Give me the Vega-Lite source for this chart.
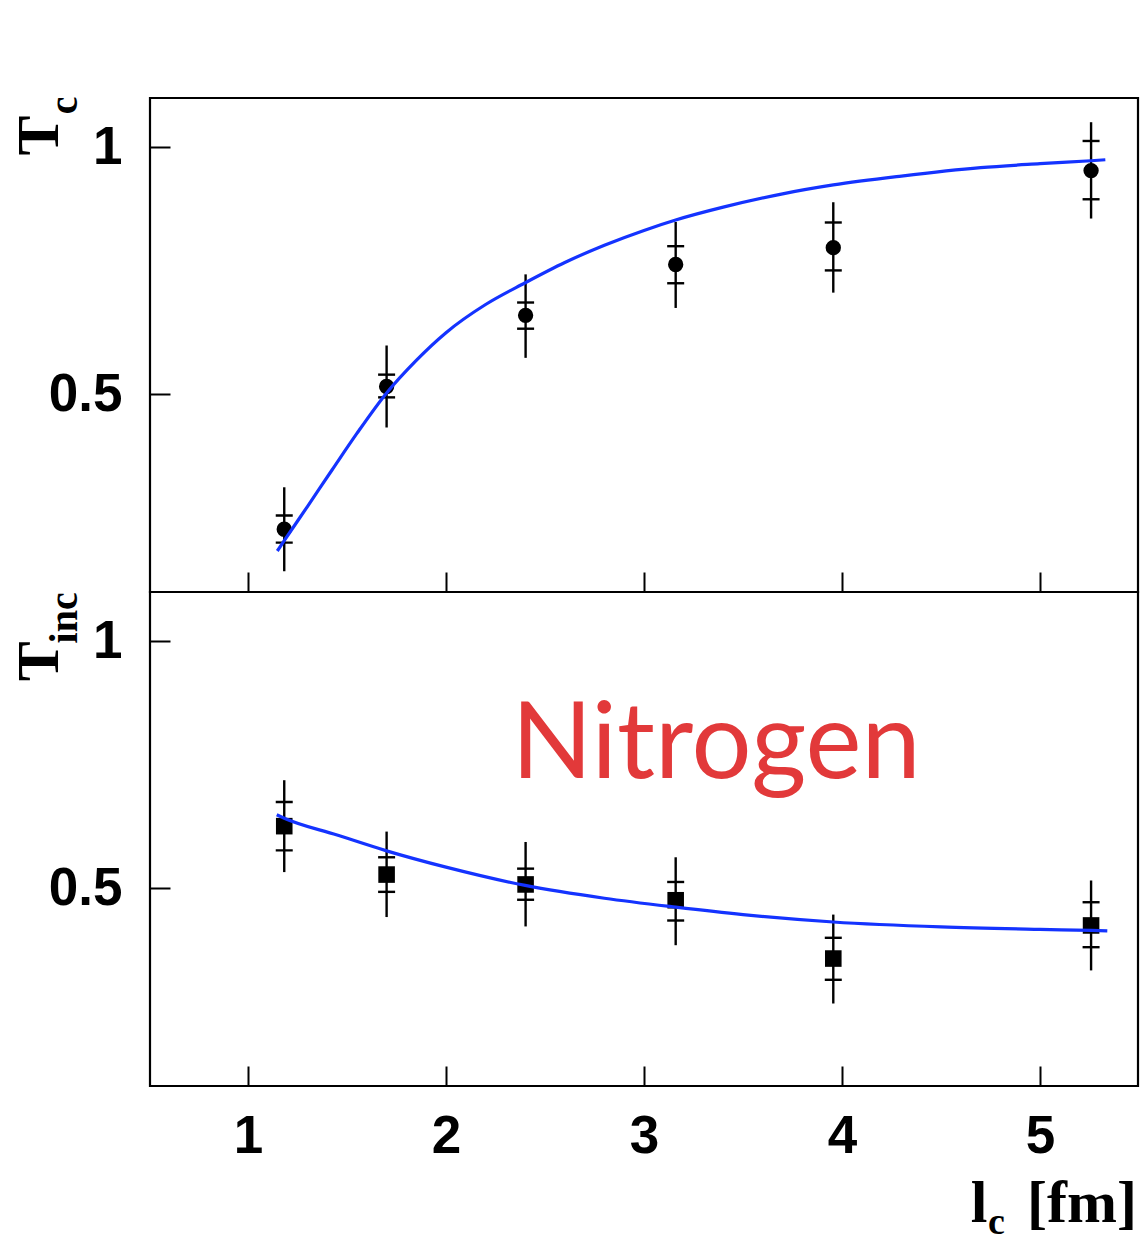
{
  "$schema": "https://vega.github.io/schema/vega-lite/v6.json",
  "autosize": {"type": "pad"},
  "padding": {"left": 8, "top": 95, "right": 0, "bottom": 0},
  "background": "white",
  "spacing": 0,
  "bounds": "flush",
  "config": {
    "view": {"stroke": "black", "strokeWidth": 2.2},
    "axis": {
      "grid": false,
      "domain": false,
      "ticks": true,
      "tickColor": "black",
      "tickWidth": 2,
      "tickSize": -20,
      "labelFont": "Liberation Sans",
      "labelFontWeight": "bold",
      "labelFontSize": 53,
      "labelColor": "black",
      "title": null
    }
  },
  "datasets": {
    "points": [
      {"panel": "c", "l": 1.183, "T": 0.227, "statLo": 0.200, "statHi": 0.255, "totLo": 0.142, "totHi": 0.312},
      {"panel": "c", "l": 1.700, "T": 0.516, "statLo": 0.494, "statHi": 0.540, "totLo": 0.433, "totHi": 0.599},
      {"panel": "c", "l": 2.402, "T": 0.660, "statLo": 0.633, "statHi": 0.686, "totLo": 0.574, "totHi": 0.743},
      {"panel": "c", "l": 3.160, "T": 0.763, "statLo": 0.725, "statHi": 0.800, "totLo": 0.675, "totHi": 0.849},
      {"panel": "c", "l": 3.956, "T": 0.797, "statLo": 0.751, "statHi": 0.848, "totLo": 0.706, "totHi": 0.889},
      {"panel": "c", "l": 5.258, "T": 0.953, "statLo": 0.895, "statHi": 1.013, "totLo": 0.856, "totHi": 1.051},
      {"panel": "inc", "l": 1.183, "T": 0.626, "statLo": 0.577, "statHi": 0.675, "totLo": 0.533, "totHi": 0.719},
      {"panel": "inc", "l": 1.700, "T": 0.528, "statLo": 0.493, "statHi": 0.563, "totLo": 0.442, "totHi": 0.615},
      {"panel": "inc", "l": 2.402, "T": 0.508, "statLo": 0.477, "statHi": 0.540, "totLo": 0.423, "totHi": 0.594},
      {"panel": "inc", "l": 3.160, "T": 0.476, "statLo": 0.435, "statHi": 0.513, "totLo": 0.385, "totHi": 0.563},
      {"panel": "inc", "l": 3.956, "T": 0.358, "statLo": 0.315, "statHi": 0.400, "totLo": 0.267, "totHi": 0.447},
      {"panel": "inc", "l": 5.258, "T": 0.425, "statLo": 0.381, "statHi": 0.472, "totLo": 0.334, "totHi": 0.516}
    ],
    "curves": [
      {"panel": "c", "l": 1.148, "T": 0.183},
      {"panel": "c", "l": 1.183, "T": 0.204},
      {"panel": "c", "l": 1.300, "T": 0.273},
      {"panel": "c", "l": 1.426, "T": 0.348},
      {"panel": "c", "l": 1.550, "T": 0.421},
      {"panel": "c", "l": 1.700, "T": 0.503},
      {"panel": "c", "l": 1.850, "T": 0.569},
      {"panel": "c", "l": 2.000, "T": 0.625},
      {"panel": "c", "l": 2.200, "T": 0.682},
      {"panel": "c", "l": 2.400, "T": 0.726},
      {"panel": "c", "l": 2.600, "T": 0.767},
      {"panel": "c", "l": 2.800, "T": 0.802},
      {"panel": "c", "l": 3.000, "T": 0.832},
      {"panel": "c", "l": 3.160, "T": 0.853},
      {"panel": "c", "l": 3.400, "T": 0.879},
      {"panel": "c", "l": 3.700, "T": 0.906},
      {"panel": "c", "l": 3.956, "T": 0.924},
      {"panel": "c", "l": 4.300, "T": 0.942},
      {"panel": "c", "l": 4.700, "T": 0.959},
      {"panel": "c", "l": 5.000, "T": 0.967},
      {"panel": "c", "l": 5.258, "T": 0.973},
      {"panel": "c", "l": 5.330, "T": 0.975},
      {"panel": "inc", "l": 1.145, "T": 0.649},
      {"panel": "inc", "l": 1.183, "T": 0.642},
      {"panel": "inc", "l": 1.450, "T": 0.608},
      {"panel": "inc", "l": 1.700, "T": 0.576},
      {"panel": "inc", "l": 2.000, "T": 0.543},
      {"panel": "inc", "l": 2.400, "T": 0.506},
      {"panel": "inc", "l": 2.800, "T": 0.480},
      {"panel": "inc", "l": 3.160, "T": 0.462},
      {"panel": "inc", "l": 3.500, "T": 0.447},
      {"panel": "inc", "l": 3.956, "T": 0.432},
      {"panel": "inc", "l": 4.500, "T": 0.422},
      {"panel": "inc", "l": 5.000, "T": 0.417},
      {"panel": "inc", "l": 5.258, "T": 0.415},
      {"panel": "inc", "l": 5.340, "T": 0.414}
    ]
  },
  "vconcat": [
    {
      "width": 988,
      "height": 494,
      "layer": [
        {
          "data": {"name": "points"},
          "transform": [{"filter": "datum.panel === 'c'"}],
          "mark": {"type": "rule", "color": "black", "strokeWidth": 2.4},
          "encoding": {
            "x": {"field": "l", "type": "quantitative", "scale": {"domain": [0.505, 5.495], "nice": false, "zero": false},
                  "axis": {"values": [1, 2, 3, 4, 5], "labels": false}},
            "y": {"field": "totLo", "type": "quantitative", "scale": {"domain": [0.1, 1.1], "nice": false, "zero": false},
                  "axis": {"values": [0.5, 1], "format": "~g", "labelPadding": 48}},
            "y2": {"field": "totHi"}
          }
        },
        {
          "data": {"name": "points"},
          "transform": [{"filter": "datum.panel === 'c'"}],
          "mark": {"type": "tick", "orient": "horizontal", "color": "black", "size": 17, "thickness": 2.4, "opacity": 1},
          "encoding": {
            "x": {"field": "l", "type": "quantitative"},
            "y": {"field": "statLo", "type": "quantitative"}
          }
        },
        {
          "data": {"name": "points"},
          "transform": [{"filter": "datum.panel === 'c'"}],
          "mark": {"type": "tick", "orient": "horizontal", "color": "black", "size": 17, "thickness": 2.4, "opacity": 1},
          "encoding": {
            "x": {"field": "l", "type": "quantitative"},
            "y": {"field": "statHi", "type": "quantitative"}
          }
        },
        {
          "data": {"name": "points"},
          "transform": [{"filter": "datum.panel === 'c'"}],
          "mark": {"type": "circle", "color": "black", "size": 235, "opacity": 1},
          "encoding": {
            "x": {"field": "l", "type": "quantitative"},
            "y": {"field": "T", "type": "quantitative"}
          }
        },
        {
          "data": {"name": "curves"},
          "transform": [{"filter": "datum.panel === 'c'"}],
          "mark": {"type": "line", "color": "#1433ff", "strokeWidth": 3.2, "interpolate": "monotone"},
          "encoding": {
            "x": {"field": "l", "type": "quantitative"},
            "y": {"field": "T", "type": "quantitative"}
          }
        },
        {
          "data": {"values": [{}]},
          "mark": {"type": "text", "text": "T", "font": "Liberation Serif", "fontWeight": "bold", "fontSize": 60,
                   "angle": 270, "align": "center", "baseline": "alphabetic", "color": "black"},
          "encoding": {"x": {"datum": 0.04}, "y": {"datum": 1.024}}
        },
        {
          "data": {"values": [{}]},
          "mark": {"type": "text", "text": "c", "font": "Liberation Serif", "fontWeight": "bold", "fontSize": 40,
                   "angle": 270, "align": "left", "baseline": "alphabetic", "color": "black"},
          "encoding": {"x": {"datum": 0.136}, "y": {"datum": 1.067}}
        }
      ]
    },
    {
      "width": 988,
      "height": 494,
      "layer": [
        {
          "data": {"name": "points"},
          "transform": [{"filter": "datum.panel === 'inc'"}],
          "mark": {"type": "rule", "color": "black", "strokeWidth": 2.4},
          "encoding": {
            "x": {"field": "l", "type": "quantitative", "scale": {"domain": [0.505, 5.495], "nice": false, "zero": false},
                  "axis": {"values": [1, 2, 3, 4, 5], "format": "d", "labelBaseline": "alphabetic", "labelPadding": 86}},
            "y": {"field": "totLo", "type": "quantitative", "scale": {"domain": [0.1, 1.1], "nice": false, "zero": false},
                  "axis": {"values": [0.5, 1], "format": "~g", "labelPadding": 48}},
            "y2": {"field": "totHi"}
          }
        },
        {
          "data": {"name": "points"},
          "transform": [{"filter": "datum.panel === 'inc'"}],
          "mark": {"type": "tick", "orient": "horizontal", "color": "black", "size": 17, "thickness": 2.4, "opacity": 1},
          "encoding": {
            "x": {"field": "l", "type": "quantitative"},
            "y": {"field": "statLo", "type": "quantitative"}
          }
        },
        {
          "data": {"name": "points"},
          "transform": [{"filter": "datum.panel === 'inc'"}],
          "mark": {"type": "tick", "orient": "horizontal", "color": "black", "size": 17, "thickness": 2.4, "opacity": 1},
          "encoding": {
            "x": {"field": "l", "type": "quantitative"},
            "y": {"field": "statHi", "type": "quantitative"}
          }
        },
        {
          "data": {"name": "points"},
          "transform": [{"filter": "datum.panel === 'inc'"}],
          "mark": {"type": "square", "color": "black", "size": 275, "opacity": 1},
          "encoding": {
            "x": {"field": "l", "type": "quantitative"},
            "y": {"field": "T", "type": "quantitative"}
          }
        },
        {
          "data": {"name": "curves"},
          "transform": [{"filter": "datum.panel === 'inc'"}],
          "mark": {"type": "line", "color": "#1433ff", "strokeWidth": 3.2, "interpolate": "monotone"},
          "encoding": {
            "x": {"field": "l", "type": "quantitative"},
            "y": {"field": "T", "type": "quantitative"}
          }
        },
        {
          "data": {"values": [{}]},
          "mark": {"type": "text", "text": "Nitrogen", "font": "Lato", "fontSize": 106,
                   "align": "center", "baseline": "alphabetic", "color": "#e2393a"},
          "encoding": {"x": {"datum": 3.364}, "y": {"datum": 0.723}}
        },
        {
          "data": {"values": [{}]},
          "mark": {"type": "text", "text": "T", "font": "Liberation Serif", "fontWeight": "bold", "fontSize": 60,
                   "angle": 270, "align": "center", "baseline": "alphabetic", "color": "black"},
          "encoding": {"x": {"datum": 0.04}, "y": {"datum": 0.96}}
        },
        {
          "data": {"values": [{}]},
          "mark": {"type": "text", "text": "inc", "font": "Liberation Serif", "fontWeight": "bold", "fontSize": 40,
                   "angle": 270, "align": "left", "baseline": "alphabetic", "color": "black"},
          "encoding": {"x": {"datum": 0.136}, "y": {"datum": 0.996}}
        },
        {
          "data": {"values": [{}]},
          "mark": {"type": "text", "text": "l", "font": "Liberation Serif", "fontWeight": "bold", "fontSize": 60,
                   "align": "left", "baseline": "alphabetic", "color": "black"},
          "encoding": {"x": {"datum": 4.65}, "y": {"datum": -0.176}}
        },
        {
          "data": {"values": [{}]},
          "mark": {"type": "text", "text": "c", "font": "Liberation Serif", "fontWeight": "bold", "fontSize": 38,
                   "align": "left", "baseline": "alphabetic", "color": "black"},
          "encoding": {"x": {"datum": 4.737}, "y": {"datum": -0.199}}
        },
        {
          "data": {"values": [{}]},
          "mark": {"type": "text", "text": "[fm]", "font": "Liberation Serif", "fontWeight": "bold", "fontSize": 60,
                   "align": "right", "baseline": "alphabetic", "color": "black"},
          "encoding": {"x": {"datum": 5.49}, "y": {"datum": -0.176}}
        }
      ]
    }
  ]
}
